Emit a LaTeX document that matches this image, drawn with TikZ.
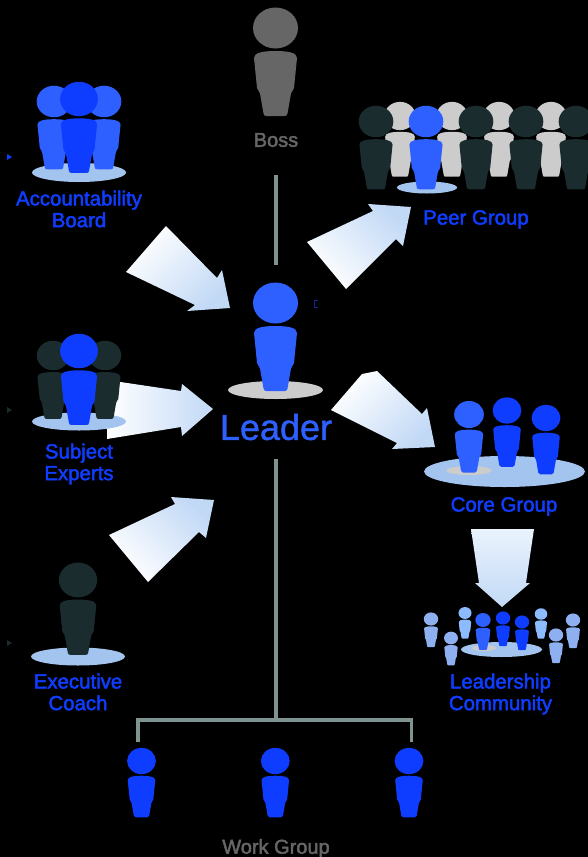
\documentclass[tikz,border=0pt]{standalone}
\usepackage{fontspec}
\setmainfont{Liberation Sans}
\newfontfamily\labfont[FakeBold=2.2]{Liberation Sans}
\newfontfamily\leadfont[FakeBold=1.2]{Liberation Sans}
\definecolor{deepblue}{HTML}{0F3DFF}
\definecolor{midblue}{HTML}{2E60FF}
\definecolor{darkfig}{HTML}{1A2C2E}
\definecolor{grayfig}{HTML}{CCCCCC}
\definecolor{bossgray}{HTML}{666666}
\definecolor{disc}{HTML}{A3C4EE}
\definecolor{lightfig}{HTML}{8FB0F0}
\definecolor{paler}{HTML}{8DBBFF}
\definecolor{linkc}{HTML}{7F9490}
\definecolor{tipblue}{HTML}{C2D9F6}
\definecolor{palestart}{HTML}{EAF3FD}
\newcommand{\figperson}[4]{%
  \begin{scope}[shift={(#1,#2)},scale=#3]
    \fill[#4] (0,0) ellipse [x radius=22.5,y radius=20.5];
    \fill[#4] (-21.5,30) .. controls (-21.5,24.5) and (-12,23) .. (0,23)
      .. controls (12,23) and (21.5,24.5) .. (21.5,30) -- (18.5,60) -- (15.5,65.5) -- (12,85.5)
      .. controls (11.8,87.5) and (10.5,88) .. (9,88) -- (-9,88)
      .. controls (-10.5,88) and (-11.8,87.5) .. (-12,85.5) -- (-15.5,65.5) -- (-18.5,60) -- cycle;
  \end{scope}}
\tikzset{
  x=1pt,y=-1pt,
  lab/.style={font=\labfont\fontsize{20.4}{21.7}\selectfont,text=deepblue,align=center,inner sep=0pt},
  graylab/.style={font=\labfont\fontsize{20}{22}\selectfont,text=bossgray,align=center,inner sep=0pt},
  link/.style={draw=linkc,line width=3.2pt},
  bigarrow/.style={top color=white,bottom color=tipblue,shading angle=#1},
  discfill/.style={fill=disc},
  mark tri/.style={fill=#1}
}
\begin{document}
\begin{tikzpicture}
\useasboundingbox (0,0) rectangle (588,857);
\fill[black] (0,0) rectangle (588,857);

% connectors
\coordinate (bossfoot) at (276,175);
\coordinate (leadertop) at (276,265);
\coordinate (leaderfoot) at (276,459);
\coordinate (junction) at (276,720);
\coordinate (wgleft) at (138,742);
\coordinate (wgright) at (411.5,742);
\draw[link] (bossfoot) -- (leadertop);
\draw[link] (leaderfoot) -- (junction);
\draw[link,line join=miter] (wgleft) |- (junction) -| (wgright);

% Boss
\figperson{275.5}{28}{1}{bossgray}
\node[graylab] (boss) at (276,140) {Boss};

% Accountability Board
\fill[discfill] (79,172.5) ellipse [x radius=47,y radius=9.5];
\figperson{54}{101.5}{0.77}{midblue}
\figperson{104}{101.5}{0.77}{midblue}
\figperson{79}{99}{0.84}{deepblue}
\node[lab] (account) at (79,209) {Accountability\\Board};

% Arrow from the subject experts lies behind their figures
\shade[bigarrow=90] (107,380) -- (181,391) -- (182,384) -- (213,409) -- (182,436) -- (181,427) -- (107,439) -- cycle;

% Subject Experts
\fill[discfill] (79,421.5) ellipse [x radius=47,y radius=9];
\figperson{53}{355.5}{0.72}{darkfig}
\figperson{105}{355.5}{0.72}{darkfig}
\figperson{79}{351}{0.84}{deepblue}
\node[lab] (subject) at (79,464) {Subject\\Experts};

% Executive Coach
\fill[discfill] (78,656.5) ellipse [x radius=47,y radius=9];
\figperson{78}{580}{0.85}{darkfig}
\node[lab] (coach) at (78,692) {Executive\\Coach};

% Peer group
\foreach \px in {400,452,499,551} {\figperson{\px}{116}{0.69}{grayfig}}
\foreach \px in {376,476,526,576} {\figperson{\px}{121.5}{0.77}{darkfig}}
\fill[discfill] (427,187.5) ellipse [x radius=30,y radius=6];
\figperson{426}{121.5}{0.77}{midblue}
\node[lab] (peer) at (476,219.5) {Peer Group};

% Leader
\fill[grayfig] (275.5,390) ellipse [x radius=47.5,y radius=9];
\figperson{275.5}{303}{1}{midblue}
\node[font=\leadfont\fontsize{36}{38}\selectfont,text=midblue,inner sep=0pt] (leader) at (276,427) {Leader};

% Core group
\fill[discfill] (504.5,471.5) ellipse [x radius=80.5,y radius=15.5];
\fill[grayfig] (469,470.5) ellipse [x radius=23,y radius=4.5];
\figperson{469}{414.5}{0.66}{midblue}
\figperson{507}{410.5}{0.64}{deepblue}
\figperson{546}{418}{0.64}{deepblue}
\node[lab] (core) at (504,506.5) {Core Group};

% Leadership community
\fill[discfill] (501.5,649.5) ellipse [x radius=40.5,y radius=7.5];
\fill[grayfig] (484,648) ellipse [x radius=12,y radius=3];
\figperson{431}{619}{0.32}{lightfig}
\figperson{451}{638}{0.31}{lightfig}
\figperson{465}{613}{0.29}{paler}
\figperson{541}{614}{0.28}{paler}
\figperson{556}{635}{0.32}{lightfig}
\figperson{573}{620}{0.32}{lightfig}
\figperson{483}{620}{0.34}{midblue}
\figperson{503}{618}{0.32}{deepblue}
\figperson{522}{622}{0.32}{deepblue}
\node[lab] (community) at (500.5,694) {Leadership\\Community};

% Work group
\figperson{141.5}{761}{0.64}{deepblue}
\figperson{275.3}{761}{0.64}{deepblue}
\figperson{409}{761}{0.64}{deepblue}
\node[graylab] (work) at (276,848.5) {Work Group};

% Big arrows
\shade[bigarrow=45] (166,226) -- (217,278) -- (222,270) -- (230,308) -- (187,311) -- (195,305) -- (126,272) -- cycle;
\shade[bigarrow=135] (109,535) -- (175,504) -- (171,497) -- (214,500) -- (206,538) -- (199,532) -- (148,582) -- cycle;
\shade[bigarrow=135] (307,242) -- (373,211) -- (368,204) -- (411,207) -- (403,246) -- (396,239) -- (346,289) -- cycle;
\shade[bigarrow=45] (377,371) -- (422,414) -- (427,408) -- (435,447) -- (392,449) -- (397,443) -- (331,410) -- (362,374) -- cycle;
\shade[top color=palestart,bottom color=tipblue] (471,529) -- (534,529) -- (526,583) -- (530,583) -- (502,607) -- (475,583) -- (479,583) -- cycle;

% small marks
\fill[mark tri=deepblue] (7,154) -- (12,157) -- (7,160) -- cycle;
\fill[mark tri=darkfig] (7,407) -- (12,410) -- (7,413) -- cycle;
\fill[mark tri=darkfig] (7,640) -- (12,643) -- (7,646) -- cycle;
\draw[deepblue!60!black,line width=0.5pt] (318,300) -- (314,300) -- (314,307) -- (318,307);
\end{tikzpicture}
\end{document}
